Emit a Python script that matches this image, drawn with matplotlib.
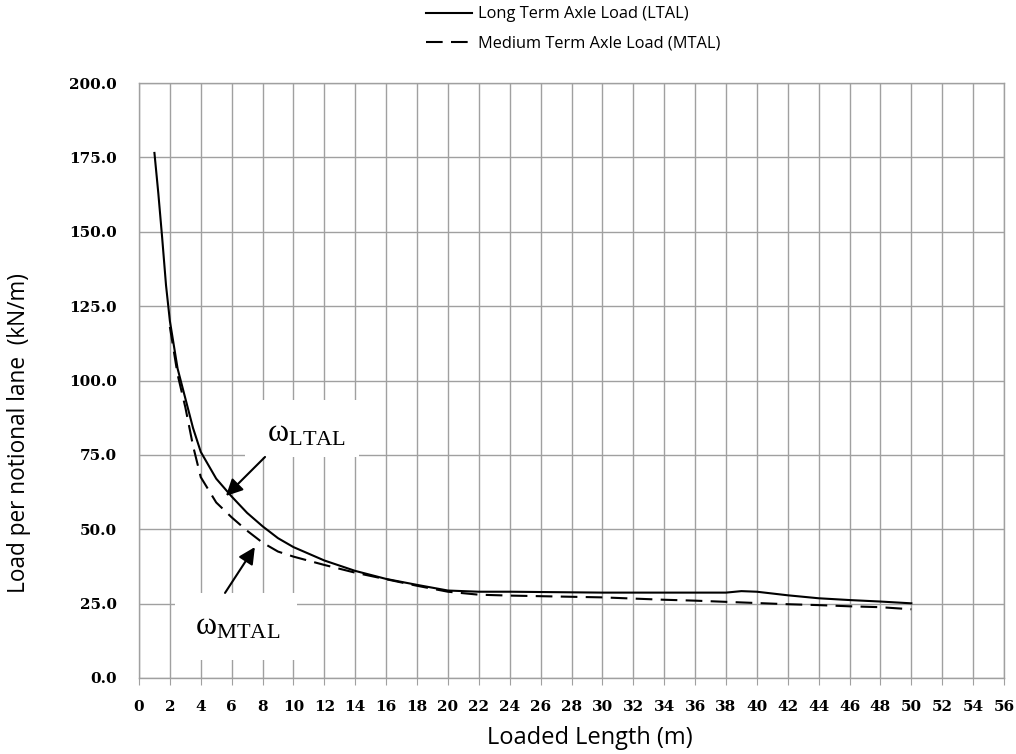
import numpy as np
import matplotlib
matplotlib.use("Agg")
import matplotlib.pyplot as plt
from matplotlib.patches import Rectangle

# Loaded length (m) and load per notional lane (kN/m)
ltal_x = [1, 1.25, 1.5, 1.75, 2, 2.5, 3, 3.5, 4, 5, 6, 7, 8, 9, 10, 12, 14, 16, 18, 20,
          22, 24, 26, 28, 30, 32, 34, 36, 38, 39, 40, 42, 44, 46, 48, 50]
ltal_y = [176.5, 163, 148, 132, 120, 104, 94, 84, 76, 67, 61, 55.5, 51, 47, 44, 39.5, 36, 33.3, 31.3, 29.4,
          29.0, 29.0, 28.9, 28.8, 28.7, 28.7, 28.7, 28.7, 28.7, 29.2, 29.0, 27.8, 26.8, 26.2, 25.7, 25.1]

mtal_x = [2, 2.5, 3, 3.5, 4, 5, 6, 7, 8, 9, 10, 12, 14, 16, 18, 20,
          22, 24, 26, 28, 30, 32, 34, 36, 38, 40, 42, 44, 46, 48, 50]
mtal_y = [118, 102, 91, 78, 67.5, 59, 54, 49.5, 45.5, 42.5, 40.8, 38, 35.4, 33.2, 31, 29,
          28, 27.7, 27.5, 27.3, 27.1, 26.7, 26.3, 26.0, 25.6, 25.2, 24.8, 24.5, 24.1, 23.8, 23.1]

xticks = np.arange(0, 57, 2)
yticks = np.arange(0, 201, 25)

SANS = 'Open Sans'
TICK = {'family': 'DejaVu Serif', 'weight': 'bold', 'size': 11}

fig = plt.figure(figsize=(10.16, 7.54), dpi=100)
ax = fig.add_axes([0.1368, 0.1008, 0.8514, 0.7891])

ax.plot(ltal_x, ltal_y, color='black', lw=1.5, label='Long Term Axle Load (LTAL)', zorder=4)
ax.plot(mtal_x, mtal_y, color='black', lw=1.5, dashes=(8, 4), label='Medium Term Axle Load (MTAL)', zorder=4)

ax.set_xlim(0, 56)
ax.set_ylim(0, 200)
ax.set_xticks(xticks)
ax.set_yticks(yticks)
ax.set_xticklabels([str(v) for v in xticks], fontdict=TICK)
ax.set_yticklabels(['%.1f' % v for v in yticks], fontdict=TICK)
ax.grid(True, color='#a0a0a0', lw=1)
ax.set_axisbelow(True)
for s in ax.spines.values():
    s.set_color('#a0a0a0')
    s.set_linewidth(1)
ax.tick_params(axis='x', length=5, color='#a0a0a0', pad=11)
ax.tick_params(axis='y', length=0, pad=16)

ax.set_xlabel('Loaded Length (m)', family=SANS, size=17, va='center')
ax.xaxis.set_label_coords((590 - 139) / 865, -(738 - 678) / 595)
fig.text(0.019, 1 - 433 / 754, 'Load per notional lane  (kN/m)', family=SANS, size=16.3,
         rotation=90, ha='center', va='center')

# white label boxes hiding the grid
ax.add_patch(Rectangle((6.86, 74.3), 7.4, 19.1, facecolor='white', edgecolor='none', zorder=2))
ax.add_patch(Rectangle((2.33, 6.05), 7.9, 22.5, facecolor='white', edgecolor='none', zorder=2))

ax.text(8.3, 79.5, '$\\mathregular{\u03c9_{LTAL}}$', family='Liberation Serif', size=23, zorder=5)
ax.text(3.6, 14.6, '$\\mathregular{\u03c9_{MTAL}}$', family='Liberation Serif', size=23, zorder=5)

arrow = dict(arrowstyle='-|>', color='black', lw=1.5, mutation_scale=25, shrinkA=0, shrinkB=0)
ax.annotate('', xy=(5.63, 61.2), xytext=(8.16, 74.3), arrowprops=arrow, zorder=5)
ax.annotate('', xy=(7.5, 44), xytext=(5.57, 28.6), arrowprops=arrow, zorder=5)

fig.legend(loc='center', bbox_to_anchor=(573 / 1016, 1 - 29 / 754), frameon=False,
           prop={'family': SANS, 'size': 11.8}, handlelength=2.8, handletextpad=0.35,
           labelspacing=0.8)

fig.savefig('out.png', dpi=100)
